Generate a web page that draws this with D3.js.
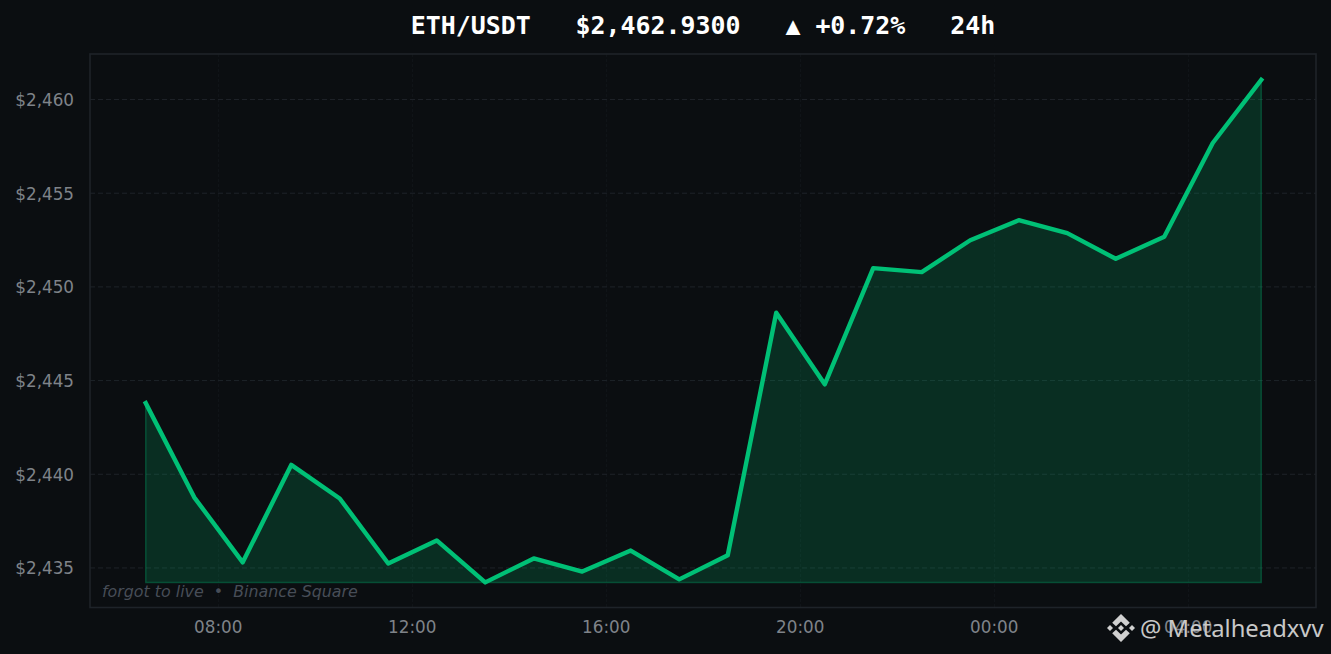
<!DOCTYPE html>
<html>
<head>
<meta charset="utf-8">
<script src="https://d3js.org/d3.v7.min.js"></script>
<style>
    html, body { margin: 0; padding: 0; background: #0b0e11; overflow: hidden; }
    svg { display: block; }
</style>
</head>
<body>
<div class="priceChart"></div>
<script>
// hours since midnight of the first day, one reading per hour
const hours = [6.5, 7.5, 8.5, 9.5, 10.5, 11.5, 12.5, 13.5, 14.5, 15.5, 16.5, 17.5,
    18.5, 19.5, 20.5, 21.5, 22.5, 23.5, 24.5, 25.5, 26.5, 27.5, 28.5, 29.5];
const prices = [2443.80, 2438.77, 2435.30, 2440.50, 2438.71, 2435.24, 2436.47, 2434.23,
    2435.51, 2434.81, 2435.93, 2434.39, 2435.68, 2448.62, 2444.80, 2451.00,
    2450.79, 2452.49, 2453.56, 2452.87, 2451.50, 2452.68, 2457.68, 2461.05];

const xTickValues = [8, 12, 16, 20, 24, 28];
const xTickLabels = ["08:00", "12:00", "16:00", "20:00", "00:00", "04:00"];
const yTickValues = [2435, 2440, 2445, 2450, 2455, 2460];

const titleText = "ETH/USDT   $2,462.9300   \u25B2 +0.72%   24h";
const captionText = "forgot to live  \u2022  Binance Square";
const watermarkText = "@ Metalheadxvv";

const width = 1331, height = 654;
const margin = {top: 54, right: 15, bottom: 46.5, left: 90};

const svg = d3.select(".priceChart")
    .append("svg")
    .attr("width", width)
    .attr("height", height);

svg.append("rect")
    .attr("width", width)
    .attr("height", height)
    .attr("fill", "#0b0e11");

const x = d3.scaleLinear()
    .domain([5.351, 30.629])
    .range([margin.left, width - margin.right]);

const y = d3.scaleLinear()
    .domain([2432.89, 2462.43])
    .range([height - margin.bottom, margin.top]);

// grid lines first so they sit under the area
svg.append("g")
    .selectAll("line")
    .data(yTickValues)
    .join("line")
    .attr("x1", margin.left)
    .attr("x2", width - margin.right)
    .attr("y1", d => y(d))
    .attr("y2", d => y(d))
    .attr("stroke", "#1e2329")
    .attr("stroke-width", 1)
    .attr("stroke-dasharray", "5 3");

svg.append("g")
    .selectAll("line")
    .data(xTickValues)
    .join("line")
    .attr("x1", d => x(d))
    .attr("x2", d => x(d))
    .attr("y1", margin.top)
    .attr("y2", height - margin.bottom)
    .attr("stroke", "#1e2329")
    .attr("stroke-width", 0.8)
    .attr("stroke-dasharray", "3 2")
    .attr("opacity", 0.4);

// area goes down to the lowest reading only
const series = hours.map((h, i) => ({h: h, p: prices[i]}));
const baseline = d3.min(prices);

svg.append("path")
    .datum(series)
    .attr("fill", "#00c076")
    .attr("fill-opacity", 0.18)
    .attr("stroke", "#00c076")
    .attr("stroke-opacity", 0.3)
    .attr("stroke-width", 1.5)
    .attr("d", d3.area()
        .x(d => x(d.h))
        .y0(y(baseline))
        .y1(d => y(d.p)));

svg.append("path")
    .datum(series)
    .attr("fill", "none")
    .attr("stroke", "#00c076")
    .attr("stroke-width", 4.4)
    .attr("stroke-linejoin", "round")
    .attr("stroke-linecap", "square")
    .attr("d", d3.line()
        .x(d => x(d.h))
        .y(d => y(d.p)));

// frame
svg.append("rect")
    .attr("x", margin.left)
    .attr("y", margin.top)
    .attr("width", width - margin.left - margin.right)
    .attr("height", height - margin.top - margin.bottom)
    .attr("fill", "none")
    .attr("stroke", "#1e2329")
    .attr("stroke-width", 1.6);

// axes
const xAxis = svg.append("g")
    .attr("transform", `translate(-0.7, ${height - margin.bottom})`)
    .call(d3.axisBottom(x)
        .tickValues(xTickValues)
        .tickFormat((d, i) => xTickLabels[i])
        .tickSize(0)
        .tickPadding(14));

const yAxis = svg.append("g")
    .attr("transform", `translate(${margin.left}, 0.5)`)
    .call(d3.axisLeft(y)
        .tickValues(yTickValues)
        .tickFormat(d => "$" + d3.format(",")(d))
        .tickSize(0)
        .tickPadding(16));

for (const axis of [xAxis, yAxis]) {
    axis.select(".domain").remove();
    axis.selectAll("text")
        .attr("fill", "#7f8389")
        .attr("font-family", "DejaVu Sans")
        .attr("font-size", "16.8px");
}

svg.append("text")
    .text(titleText)
    .attr("x", 703)
    .attr("y", 34)
    .attr("text-anchor", "middle")
    .style("white-space", "pre")
    .attr("fill", "#ffffff")
    .attr("font-family", "DejaVu Sans Mono")
    .attr("font-weight", "bold")
    .attr("font-size", "24.9px");

svg.append("text")
    .text(captionText)
    .attr("x", 102)
    .attr("y", 597)
    .style("white-space", "pre")
    .attr("fill", "#474d57")
    .attr("font-family", "DejaVu Sans")
    .attr("font-style", "italic")
    .attr("font-size", "15.85px");

// watermark logo, five diamonds
const logo = svg.append("g")
    .attr("transform", "translate(1121, 628)")
    .attr("fill", "#d0d0d0");

logo.append("path").attr("d", "M0,-14 L8.8,-5.2 L5,-1.8 L0,-6.6 L-5,-1.8 L-8.8,-5.2 Z");
logo.append("path").attr("d", "M0,14 L8.8,5.2 L5,1.8 L0,6.6 L-5,1.8 L-8.8,5.2 Z");
logo.append("path").attr("d", "M0,-3 L3,0 L0,3 L-3,0 Z");
logo.append("path").attr("d", "M-11,-3 L-8,0 L-11,3 L-14,0 Z");
logo.append("path").attr("d", "M11,-3 L14,0 L11,3 L8,0 Z");

svg.append("text")
    .text(watermarkText)
    .attr("x", 1140)
    .attr("y", 637)
    .attr("fill", "#c8c8c8")
    .attr("font-family", "Noto Sans")
    .attr("font-size", "23.8px");
</script>
</body>
</html>
